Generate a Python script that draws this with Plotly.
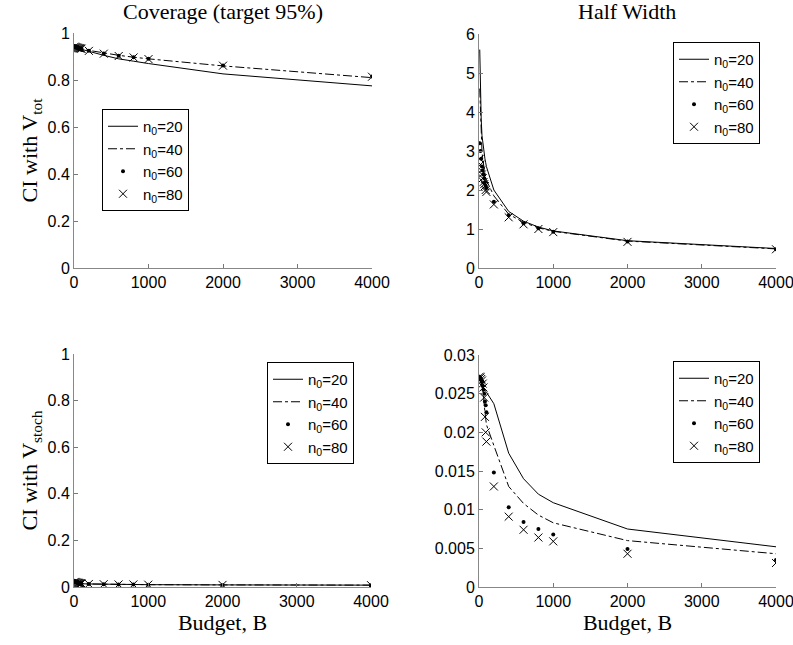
import plotly.graph_objects as go

# Budgets (shared x values)
budget = [10, 20, 30, 40, 50, 60, 70, 80, 90, 100, 200, 400, 600, 800, 1000, 2000, 4000]
n0_labels = ["n<sub>0</sub>=20", "n<sub>0</sub>=40", "n<sub>0</sub>=60", "n<sub>0</sub>=80"]

# Coverage, CI with V_tot
cov_tot_20 = [0.940, 0.938, 0.937, 0.936, 0.935, 0.934, 0.933, 0.932, 0.931, 0.930, 0.922, 0.905, 0.890, 0.880, 0.870, 0.826, 0.775]
cov_tot_40 = [0.940, 0.938, 0.937, 0.936, 0.935, 0.935, 0.934, 0.933, 0.933, 0.932, 0.926, 0.915, 0.905, 0.897, 0.890, 0.860, 0.810]
cov_tot_60 = [0.941, 0.939, 0.938, 0.937, 0.936, 0.935, 0.935, 0.934, 0.934, 0.933, 0.925, 0.913, 0.903, 0.897, 0.890, 0.862, 0.815]
cov_tot_80 = [0.942, 0.940, 0.939, 0.938, 0.937, 0.936, 0.935, 0.935, 0.934, 0.933, 0.924, 0.912, 0.902, 0.896, 0.889, 0.861, 0.814]

# Half width, CI with V_tot
hw_tot_20 = [5.6, 4.3, 3.8, 3.4, 3.2, 3.0, 2.9, 2.8, 2.7, 2.6, 2.0, 1.45, 1.2, 1.05, 0.95, 0.70, 0.50]
hw_tot_40 = [4.6, 3.8, 3.3, 3.0, 2.8, 2.65, 2.5, 2.4, 2.3, 2.25, 1.85, 1.38, 1.17, 1.03, 0.94, 0.69, 0.49]
hw_tot_60 = [3.2, 3.0, 2.8, 2.6, 2.5, 2.4, 2.3, 2.2, 2.1, 2.05, 1.70, 1.35, 1.15, 1.02, 0.93, 0.68, 0.48]
hw_tot_80 = [2.8, 2.65, 2.5, 2.4, 2.3, 2.2, 2.15, 2.1, 2.0, 1.95, 1.63, 1.30, 1.12, 1.00, 0.92, 0.67, 0.48]

# Coverage, CI with V_stoch
cov_st_20 = [0.020, 0.019, 0.018, 0.017, 0.016, 0.016, 0.015, 0.015, 0.014, 0.014, 0.013, 0.012, 0.011, 0.011, 0.010, 0.009, 0.008]
cov_st_40 = [0.021, 0.020, 0.019, 0.018, 0.017, 0.016, 0.016, 0.015, 0.015, 0.014, 0.013, 0.012, 0.011, 0.011, 0.010, 0.009, 0.008]
cov_st_60 = [0.022, 0.021, 0.020, 0.019, 0.018, 0.017, 0.016, 0.016, 0.015, 0.015, 0.013, 0.012, 0.011, 0.011, 0.010, 0.009, 0.008]
cov_st_80 = [0.022, 0.021, 0.020, 0.019, 0.018, 0.018, 0.017, 0.016, 0.016, 0.015, 0.013, 0.012, 0.011, 0.011, 0.010, 0.009, 0.008]

# Half width, CI with V_stoch
hw_st_20 = [0.0268, 0.0265, 0.0262, 0.0260, 0.0258, 0.0257, 0.0255, 0.0254, 0.0253, 0.0252, 0.0237, 0.0173, 0.0140, 0.0120, 0.0109, 0.0075, 0.0052]
hw_st_40 = [0.0270, 0.0268, 0.0265, 0.0260, 0.0255, 0.0250, 0.0235, 0.0225, 0.0215, 0.0210, 0.0183, 0.0130, 0.0108, 0.0093, 0.0083, 0.0060, 0.0043]
hw_st_60 = [0.0272, 0.0270, 0.0268, 0.0265, 0.0260, 0.0255, 0.0250, 0.0240, 0.0235, 0.0226, 0.0148, 0.0103, 0.0084, 0.0075, 0.0068, 0.0049, 0.0035]
hw_st_80 = [0.0272, 0.0271, 0.0269, 0.0267, 0.0263, 0.0258, 0.0245, 0.0220, 0.0200, 0.0188, 0.0130, 0.0091, 0.0074, 0.0064, 0.0059, 0.0043, 0.0031]

panels = [
    ([cov_tot_20, cov_tot_40, cov_tot_60, cov_tot_80], "x", "y", "legend"),
    ([hw_tot_20, hw_tot_40, hw_tot_60, hw_tot_80], "x2", "y2", "legend2"),
    ([cov_st_20, cov_st_40, cov_st_60, cov_st_80], "x3", "y3", "legend3"),
    ([hw_st_20, hw_st_40, hw_st_60, hw_st_80], "x4", "y4", "legend4"),
]

fig = go.Figure()
for series, xa, ya, lg in panels:
    fig.add_trace(go.Scatter(x=budget, y=series[0], mode="lines", name=n0_labels[0],
                             line=dict(color="black", width=1), xaxis=xa, yaxis=ya, legend=lg))
    fig.add_trace(go.Scatter(x=budget, y=series[1], mode="lines", name=n0_labels[1],
                             line=dict(color="black", width=1, dash="dashdot"), xaxis=xa, yaxis=ya, legend=lg))
    fig.add_trace(go.Scatter(x=budget, y=series[2], mode="markers", name=n0_labels[2],
                             marker=dict(color="black", size=4, symbol="circle"), xaxis=xa, yaxis=ya, legend=lg))
    fig.add_trace(go.Scatter(x=budget, y=series[3], mode="markers", name=n0_labels[3],
                             marker=dict(color="black", size=8, symbol="x-thin", line=dict(width=1, color="black")),
                             xaxis=xa, yaxis=ya, legend=lg))

W, H = 793, 645
def dx(a, b):
    return [a / W, b / W]
def dy(top, bot):
    return [1 - bot / H, 1 - top / H]
def px(x):
    return x / W
def py(y):
    return 1 - y / H

tickfont = dict(family="Liberation Sans, Arial, sans-serif", size=16, color="black")
serif = dict(family="Liberation Serif, Times New Roman, serif", size=22, color="black")

def xaxis(dom, anchor, title=None):
    d = dict(domain=dom, anchor=anchor, range=[0, 4000], tickvals=[0, 1000, 2000, 3000, 4000],
             ticks="inside", ticklen=4, tickcolor="#777", showline=True, linecolor="#888", linewidth=1,
             showgrid=False, zeroline=False, tickfont=tickfont, automargin=False,
             ticklabeloverflow="allow")
    if title:
        d["title"] = dict(text=title, font=serif, standoff=2)
    return d

def yaxis(dom, anchor, rng, tv, tt, title=None):
    d = dict(domain=dom, anchor=anchor, range=rng, tickvals=tv, ticktext=tt,
             ticks="inside", ticklen=4, tickcolor="#777", showline=True, linecolor="#888", linewidth=1,
             showgrid=False, zeroline=False, tickfont=tickfont, automargin=False,
             ticklabeloverflow="allow")
    if title:
        d["title"] = dict(text=title, font=serif, standoff=3)
    return d

cov_ticks = [0, 0.2, 0.4, 0.6, 0.8, 1]
cov_text = ["0", "0.2", "0.4", "0.6", "0.8", "1"]

fig.update_layout(
    width=W, height=H, margin=dict(l=0, r=0, t=0, b=0, autoexpand=False),
    paper_bgcolor="white", plot_bgcolor="white",
    xaxis=xaxis(dx(74, 372), "y"),
    yaxis=yaxis(dy(33, 268), "x", [0, 1], cov_ticks, cov_text, "CI with V<sub>tot</sub>"),
    xaxis2=xaxis(dx(479, 776), "y2"),
    yaxis2=yaxis(dy(34, 268), "x2", [0, 6], [0, 1, 2, 3, 4, 5, 6], ["0", "1", "2", "3", "4", "5", "6"]),
    xaxis3=xaxis(dx(74, 371), "y3", "Budget, B"),
    yaxis3=yaxis(dy(354, 587), "x3", [0, 1], cov_ticks, cov_text, "CI with V<sub>stoch</sub>"),
    xaxis4=xaxis(dx(479, 776), "y4", "Budget, B"),
    yaxis4=yaxis(dy(355, 587), "x4", [0, 0.03], [0, 0.005, 0.01, 0.015, 0.02, 0.025, 0.03],
                 ["0", "0.005", "0.01", "0.015", "0.02", "0.025", "0.03"]),
    annotations=[
        dict(text="Coverage (target 95%)", x=px(223), y=py(12), xref="paper", yref="paper",
             showarrow=False, font=serif, xanchor="center", yanchor="middle"),
        dict(text="Half Width", x=px(627), y=py(12), xref="paper", yref="paper",
             showarrow=False, font=serif, xanchor="center", yanchor="middle"),
    ],
)

legfont = dict(family="Liberation Sans, Arial, sans-serif", size=15, color="black")
def leg(x, y):
    return dict(x=px(x), y=py(y), xanchor="left", yanchor="top", bgcolor="white",
                bordercolor="black", borderwidth=1, font=legfont, tracegroupgap=0,
                itemwidth=30, traceorder="normal")

fig.update_layout(
    legend=leg(102, 109),
    legend2=leg(673, 42),
    legend3=leg(267, 362),
    legend4=leg(673, 361),
)

# remove the default page margin so the figure sits at the window's top-left corner
fig.write_html("out.html", config={"displayModeBar": False},
               post_script="document.body.style.margin='0';")
